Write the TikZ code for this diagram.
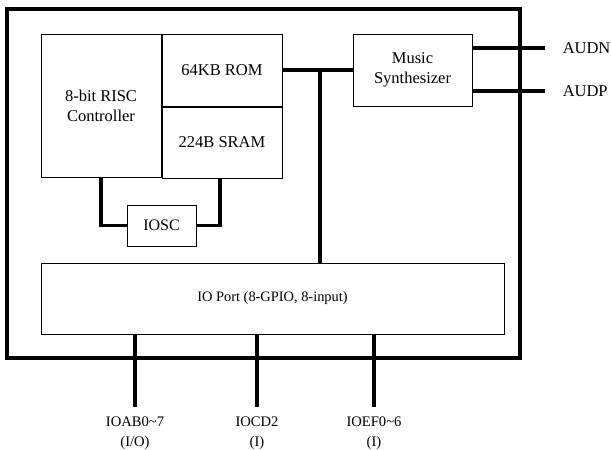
\documentclass[tikz,border=0pt]{standalone}
\usepackage{fontspec}
\setmainfont{Liberation Serif}
\usetikzlibrary{positioning}

\tikzset{
  blk/.style={draw,line width=1pt,minimum width=#1,inner sep=0pt,align=center,
    font=\fontsize{16.5}{20}\selectfont},
  bus/.style={line width=3.5pt},
  pinlbl/.style={align=center,inner sep=0pt,font=\fontsize{14.6}{20}\selectfont},
  audlbl/.style={inner sep=0pt,font=\fontsize{16.5}{20}\selectfont}
}

\begin{document}
\begin{tikzpicture}[x=1pt,y=-1pt]
  \useasboundingbox (0,0) rectangle (611,450);
  % chip outline
  \draw[line width=4pt] (7,9) rectangle (520,358);

  % core blocks
  \node[blk=120pt,minimum height=143pt] (ctrl) at (101,105.5) {8-bit RISC\\Controller};
  \node[blk=120pt,minimum height=72pt,anchor=north west] (rom) at (ctrl.north east) {64KB ROM};
  \node[blk=120pt,minimum height=71pt,below=0pt of rom] (sram) {224B SRAM};
  \node[blk=69pt,minimum height=41pt,font=\fontsize{16}{20}\selectfont] (iosc) at (161.5,225.5) {IOSC};
  \node[blk=119pt,minimum height=72pt] (music) at (412.5,70) {Music\\Synthesizer};
  \node[blk=463pt,minimum height=71pt,font=\fontsize{14.4}{20}\selectfont] (io) at (272.5,298.5) {IO Port (8-GPIO, 8-input)};

  % clock loop
  \draw[bus] (ctrl.south) |- (iosc.west);
  \draw[bus] (sram.south -| 220,0) |- (iosc.east);

  % internal bus
  \coordinate (jn) at (320,70);
  \draw[bus] (rom.east) -- (music.west);
  \draw[bus] (jn) -- (jn |- io.north);

  % audio outputs
  \coordinate (audn) at (545,48);
  \coordinate (audp) at (545,91);
  \draw[bus] (audn -| music.east) -- (audn) node[audlbl,right=16pt] (audnl) {AUDN};
  \draw[bus] (audp -| music.east) -- (audp) node[audlbl,right=16pt] (audpl) {AUDP};

  % port pins
  \foreach \x/\pname/\pdir [count=\n] in
      {135/IOAB0\textasciitilde7/(I\slash O), 257/IOCD2/(I), 374/IOEF0\textasciitilde6/(I)}
  {
    \coordinate (p\n) at (\x,407);
    \draw[bus] (io.south -| p\n) -- (p\n);
    \node[pinlbl,below=10pt of p\n] (pl\n) {\pname\\\pdir};
  }
\end{tikzpicture}
\end{document}
